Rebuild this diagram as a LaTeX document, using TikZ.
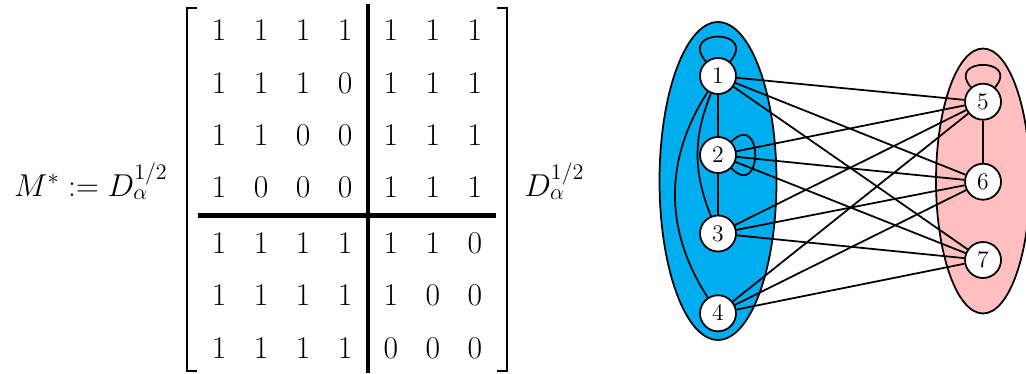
\documentclass[tikz,border=0pt]{standalone}
\usepackage{fix-cm}
\usepackage{amsmath}
\usetikzlibrary{matrix,calc}
\definecolor{leftpart}{RGB}{0,174,239}
\definecolor{rightpart}{RGB}{255,191,191}
\tikzset{
  vertex/.style={draw=black, line width=1pt, circle, fill=white, minimum size=0.72cm, inner sep=0pt, font=\fontsize{13.5}{16}\selectfont},
  edge/.style={draw=black, line width=1pt},
  part/.style={draw=black, line width=1pt},
  bigrule/.style={line width=2.5pt},
  bracket/.style={line width=1.1pt},
  formula/.style={inner sep=0pt, font=\fontsize{18}{22}\selectfont}
}
\begin{document}
\begin{tikzpicture}[x=0.02cm, y=0.02cm]
\useasboundingbox (0,0) rectangle (1026,373);
\draw [part, fill=leftpart] (718,192) ellipse [x radius=1.17cm, y radius=3.18cm];
\draw [part, fill=rightpart] (983,192) ellipse [x radius=0.94cm, y radius=2.65cm];
\node [vertex] (n1) at (718,297) {$1$};
\node [vertex] (n2) at (718,218) {$2$};
\node [vertex] (n3) at (718,139.5) {$3$};
\node [vertex] (n4) at (718,59.7) {$4$};
\node [vertex] (n5) at (983,271.3) {$5$};
\node [vertex] (n6) at (983,191.3) {$6$};
\node [vertex] (n7) at (983,113) {$7$};
\draw [edge] (n1) to [out=130, in=50, min distance=0.87cm] (n1);
\draw [edge] (n2) to [out=45, in=-45, min distance=0.9cm] (n2);
\draw [edge] (n5) to [out=130, in=50, min distance=0.78cm] (n5);
\draw [edge] (n1) -- (n2);
\draw [edge] (n2) -- (n3);
\draw [edge] (n1) to [bend right=22] (n3);
\draw [edge] (n1) to [bend right=33] (n4);
\draw [edge] (n5) -- (n6);
\foreach \a in {1,...,4}
  \foreach \b in {5,6,7}
    \draw [edge] (n\a) -- (n\b);
\matrix (mat) at (347,183.7) [matrix of math nodes, inner sep=0pt, row sep=0.146cm, column sep=0pt,
  nodes={minimum width=0.84cm, minimum height=0.9cm, inner sep=0pt, anchor=center, font=\fontsize{18}{22}\selectfont}]
{
1 & 1 & 1 & 1 &[0.08cm] 1 & 1 & 1 \\
1 & 1 & 1 & 0 & 1 & 1 & 1 \\
1 & 1 & 0 & 0 & 1 & 1 & 1 \\
1 & 0 & 0 & 0 & 1 & 1 & 1 \\[0.075cm]
1 & 1 & 1 & 1 & 1 & 1 & 0 \\
1 & 1 & 1 & 1 & 1 & 0 & 0 \\
1 & 1 & 1 & 1 & 0 & 0 & 0 \\
};
\draw [bracket] ($(mat.north west)+(-1,0)$) -- ++(-10,0) -- ($(mat.south west)+(-11,0)$) -- ++(10,0);
\draw [bracket] ($(mat.north east)+(1,0)$) -- ++(10,0) -- ($(mat.south east)+(11,0)$) -- ++(-10,0);
\coordinate (vmid) at ($(mat-1-4.east)!0.5!(mat-1-5.west)$);
\coordinate (hmid) at ($(mat-4-1.south)!0.5!(mat-5-1.north)$);
\draw [bigrule] (vmid |- 0,369) -- (vmid |- 0,0);
\draw [bigrule] (mat.west |- hmid) -- (mat.east |- hmid);
\node [formula, anchor=base east] (lhs) at (168,177) {$M^* := D_\alpha^{1/2}$};
\node [formula, anchor=base west] (rhs) at (524,177) {$D_\alpha^{1/2}$};
\end{tikzpicture}
\end{document}
